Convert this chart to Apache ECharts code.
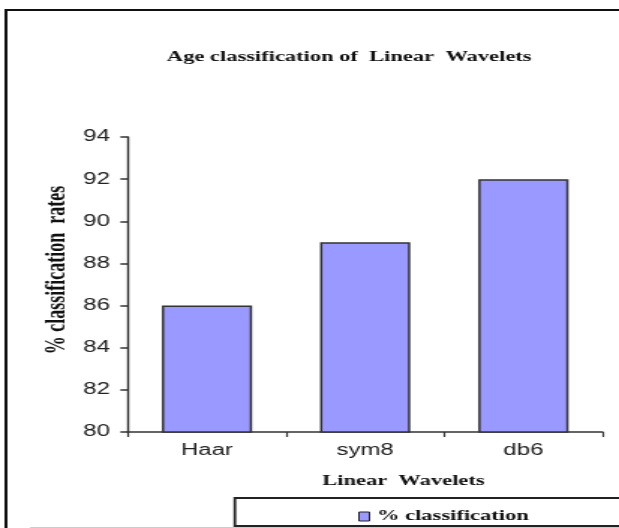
<!DOCTYPE html>
<html>
<head>
<meta charset="utf-8">
<script src="https://cdn.jsdelivr.net/npm/echarts@6/dist/echarts.min.js"></script>
<style>
html,body{margin:0;padding:0;background:#fff;overflow:hidden;}
#c{width:413px;height:528px;transform:scaleX(1.4988);transform-origin:0 0;}
</style>
</head>
<body>
<div id="c"></div>
<script>
const categories = ['Haar', 'sym8', 'db6'];
const classificationRates = [86, 89, 92];
const seriesName = '% classification';
const yMin = 80, yMax = 94, yStep = 2;

const chart = echarts.init(document.getElementById('c'), null, {renderer: 'canvas', devicePixelRatio: 1});
const serif = '"Liberation Serif", "Times New Roman", serif';
const sans = '"Liberation Sans", Arial, sans-serif';

chart.setOption({
  animation: false,
  backgroundColor: '#fff',
  title: {
    text: 'Age classification of  Linear  Wavelets',
    left: 228, top: 45, textAlign: 'center',
    textStyle: {fontFamily: serif, fontWeight: 'bold', fontSize: 15, color: '#111'}
  },
  grid: {left: 85.3, right: 11, top: 137, bottom: 96},
  legend: {
    data: [seriesName],
    left: 234, top: 504,
    icon: 'rect', itemWidth: 7, itemHeight: 9,
    itemStyle: {borderColor: '#222', borderWidth: 1},
    textStyle: {fontFamily: serif, fontWeight: 'bold', fontSize: 15, color: '#111'}
  },
  xAxis: {
    type: 'category',
    data: categories,
    axisLine: {lineStyle: {color: '#333', width: 1.5}},
    axisTick: {show: true, length: 5, lineStyle: {color: '#333', width: 1.2}},
    axisLabel: {margin: 11, fontFamily: sans, fontSize: 16, color: '#222'},
    name: 'Linear  Wavelets',
    nameLocation: 'middle',
    nameGap: 42,
    nameTextStyle: {fontFamily: serif, fontWeight: 'bold', fontSize: 15, color: '#111', padding: [0, 0, 0, 51]}
  },
  yAxis: {
    type: 'value',
    min: yMin, max: yMax, interval: yStep,
    axisLine: {show: true, lineStyle: {color: '#333', width: 1.4}},
    axisTick: {show: true, length: 5, lineStyle: {color: '#333', width: 1.5}},
    splitLine: {show: false},
    axisLabel: {margin: 12, fontFamily: sans, fontSize: 16, color: '#222'}
  },
  graphic: [
    {type: 'rect', silent: true, z: 100,
     shape: {x: 4, y: 10, width: 600, height: 700},
     style: {fill: 'none', stroke: '#111', lineWidth: 2}},
    {type: 'rect', silent: true, z: -1,
     shape: {x: 156.7, y: 498, width: 400, height: 28},
     style: {fill: '#fff', stroke: '#222', lineWidth: 1.8}},
    {type: 'line', silent: true,
     shape: {x1: 20, y1: 527.5, x2: 413, y2: 527.5},
     style: {stroke: '#ccc', lineWidth: 1}},
    {type: 'text', silent: true,
     x: 38.7, y: 270, rotation: Math.PI / 2,
     style: {text: '% classification  rates', fontFamily: serif, fontWeight: 'bold', fontSize: 18,
             fill: '#111', align: 'center', verticalAlign: 'middle'}}
  ],
  series: [{
    name: seriesName,
    type: 'bar',
    data: classificationRates,
    barWidth: '57%',
    itemStyle: {color: '#9999FF', borderColor: '#333', borderWidth: 1.5}
  }]
});
</script>
</body>
</html>
